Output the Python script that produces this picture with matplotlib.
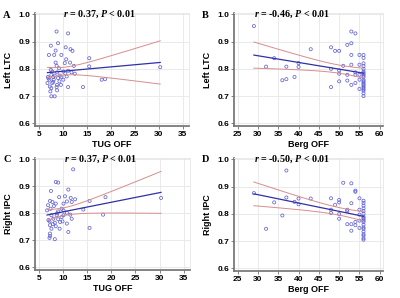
import numpy as np
import matplotlib
matplotlib.use("Agg")
import matplotlib.pyplot as plt

plt.rcParams['font.family'] = 'Liberation Sans'
plt.rcParams['mathtext.fontset'] = 'custom'
plt.rcParams['mathtext.it'] = 'Liberation Serif:italic:bold'
plt.rcParams['mathtext.rm'] = 'Liberation Serif:bold'

# ---- data ----
tug_a = [8.7, 11.1, 7.5, 9.0, 10.6, 11.6, 12.0, 8.5, 7.1, 8.2, 9.7, 10.7, 15.5, 8.5, 10.4,
         11.5, 12.3, 15.5, 8.7, 9.2, 30.3, 7.5, 7.8, 8.8, 10.1, 11.1, 11.8, 12.5, 6.9, 8.0,
         9.0, 9.7, 10.8, 7.2, 8.1, 9.3, 10.1, 6.8, 7.8, 8.8, 9.6, 18.1, 18.8, 7.6, 8.7,
         11.1, 14.2, 7.4, 8.8, 7.6, 8.3, 7.3, 8.3, 7.6, 7.0, 9.4, 8.0, 10.5]
ltc_a = [0.937, 0.930, 0.885, 0.894, 0.879, 0.872, 0.866, 0.867, 0.851, 0.851, 0.851, 0.835,
         0.839, 0.823, 0.821, 0.823, 0.811, 0.809, 0.811, 0.802, 0.806, 0.796, 0.790, 0.787,
         0.790, 0.793, 0.787, 0.782, 0.770, 0.770, 0.766, 0.770, 0.772, 0.760, 0.760, 0.754,
         0.760, 0.748, 0.748, 0.741, 0.741, 0.760, 0.762, 0.729, 0.733, 0.733, 0.733, 0.717,
         0.721, 0.699, 0.699, 0.735, 0.775, 0.778, 0.765, 0.775, 0.752, 0.783]

berg_b = [29, 32, 34, 37, 36, 37, 39, 40, 40, 43, 48, 48, 48, 49, 50, 50, 50, 50, 51, 52,
          52, 52, 53, 54, 53, 53, 53, 53, 54, 54, 55, 55, 55, 55, 55, 54,
          56, 56, 56, 56, 56, 56, 56, 56, 56, 56, 56, 56, 56, 56, 56, 56, 56, 56, 56, 56, 56]
ltc_b = [0.957, 0.808, 0.839, 0.808, 0.758, 0.762, 0.770, 0.821, 0.807, 0.872, 0.879, 0.800,
         0.733, 0.866, 0.866, 0.794, 0.782, 0.754, 0.811, 0.778, 0.757, 0.888, 0.937, 0.930,
         0.894, 0.851, 0.815, 0.741, 0.778, 0.787, 0.851, 0.815, 0.778, 0.760, 0.726, 0.748,
         0.851, 0.840, 0.820, 0.810, 0.800, 0.790, 0.785, 0.780, 0.775, 0.770, 0.760, 0.755,
         0.750, 0.745, 0.740, 0.735, 0.730, 0.725, 0.720, 0.710, 0.700]

tug_c = [12.1, 8.5, 9.0, 11.1, 7.5, 10.4, 9.2, 11.6, 12.5, 10.8, 11.8, 15.5, 18.8, 30.3,
         7.3, 7.8, 8.5, 6.9, 8.1, 7.4, 9.7, 10.1, 9.0, 14.2, 6.7, 10.8, 11.5, 7.6, 8.7, 9.7,
         18.3, 8.0, 9.0, 11.8, 7.2, 8.3, 9.4, 10.8, 7.3, 8.5, 9.3, 7.6, 15.5, 11.1, 7.3, 7.3,
         7.2, 8.3, 10.1, 10.1, 7.0, 8.8, 9.9, 7.9]
ipc_c = [0.963, 0.916, 0.914, 0.888, 0.883, 0.863, 0.860, 0.857, 0.852, 0.844, 0.842, 0.846,
         0.860, 0.857, 0.846, 0.842, 0.836, 0.830, 0.827, 0.817, 0.817, 0.811, 0.807, 0.814,
         0.811, 0.802, 0.795, 0.793, 0.793, 0.786, 0.795, 0.780, 0.778, 0.780, 0.770, 0.765,
         0.768, 0.762, 0.756, 0.752, 0.743, 0.743, 0.746, 0.731, 0.725, 0.716, 0.709, 0.704,
         0.836, 0.793, 0.775, 0.800, 0.770, 0.760]

berg_d = [29, 32, 34, 36, 37, 37, 39, 40, 40, 43, 48, 48, 48, 49, 50, 50, 50, 50, 51, 52,
          52, 52, 53, 53, 53, 53, 54, 54, 54, 54, 55, 55, 55, 55, 55,
          56, 56, 56, 56, 56, 56, 56, 56, 56, 56, 56, 56, 56, 56, 56, 56, 56, 56, 56]
ipc_d = [0.876, 0.745, 0.842, 0.794, 0.959, 0.860, 0.844, 0.856, 0.835, 0.856, 0.857, 0.815,
         0.803, 0.833, 0.851, 0.842, 0.782, 0.799, 0.914, 0.815, 0.762, 0.810, 0.912, 0.839,
         0.762, 0.738, 0.881, 0.885, 0.770, 0.758, 0.857, 0.815, 0.797, 0.775, 0.748,
         0.848, 0.840, 0.830, 0.820, 0.810, 0.800, 0.790, 0.785, 0.780, 0.775, 0.770, 0.760,
         0.750, 0.745, 0.735, 0.725, 0.720, 0.710, 0.705]

panels = [
    ("A", tug_a, ltc_a, "TUG OFF", "Left LTC", "$r$ = 0.37, $P$ < 0.01"),
    ("B", berg_b, ltc_b, "Berg OFF", "Left LTC", "$r$ = -0.46, $P$ < 0.01"),
    ("C", tug_c, ipc_c, "TUG OFF", "Right IPC", "$r$ = 0.37, $P$ < 0.01"),
    ("D", berg_d, ipc_d, "Berg OFF", "Right IPC", "$r$ = -0.50, $P$ < 0.01"),
]

W, H = 400, 298
fig = plt.figure(figsize=(4, 2.98), dpi=100)

# axes boxes in pixels: left, top, right, bottom
boxes = [(35, 13, 189, 126), (234, 13, 383, 126), (35, 158, 190, 270), (234, 158, 383, 271)]
xlims = [(4.2, 36.3), (24.1, 60.8), (4.2, 36.3), (24.1, 60.8)]
xticks = [np.arange(5, 36, 5), np.arange(25, 61, 5), np.arange(5, 36, 5), np.arange(25, 61, 5)]
text_x = [0.42, 0.39, 0.42, 0.39]

for i, (letter, x, y, xl, yl, stat) in enumerate(panels):
    l, t, r, b = boxes[i]
    ax = fig.add_axes([l / W, 1 - b / H, (r - l) / W, (b - t) / H])
    x = np.array(x); y = np.array(y)

    ax.scatter(x, y, s=5, facecolors='none', edgecolors='#6464d2', linewidths=0.55, zorder=3)

    # regression line + 95% CI of the mean
    n = len(x)
    slope, icpt = np.polyfit(x, y, 1)
    xs = np.linspace(x.min(), x.max(), 100)
    yh = icpt + slope * xs
    resid = y - (icpt + slope * x)
    s = np.sqrt(np.sum(resid ** 2) / (n - 2))
    sxx = np.sum((x - x.mean()) ** 2)
    half = 2.0 * s * np.sqrt(1 / n + (xs - x.mean()) ** 2 / sxx)
    ax.plot(xs, yh, color='#3030a8', lw=0.9, zorder=4)
    ax.plot(xs, yh + half, color='#d88c8c', lw=0.7, zorder=4)
    ax.plot(xs, yh - half, color='#d88c8c', lw=0.7, zorder=4)

    ax.set_xlim(*xlims[i])
    ax.set_ylim(0.59, 1.005)
    ax.set_xticks(xticks[i])
    ax.set_yticks([0.6, 0.7, 0.8, 0.9, 1.0])
    ax.set_yticklabels(["0.6", "0.7", "0.8", "0.9", "1.0"])
    ax.grid(True, color='#e6e6e6', lw=0.6)
    ax.set_axisbelow(True)
    for side in ['top', 'right']:
        ax.spines[side].set_color('#e6e6e6')
        ax.spines[side].set_linewidth(0.6)
    for side in ['left', 'bottom']:
        ax.spines[side].set_color('#707070')
        ax.spines[side].set_linewidth(1.2)
    ax.tick_params(labelsize=6, length=2, width=0.6, color='#707070', pad=1.5)
    for lab in ax.get_xticklabels() + ax.get_yticklabels():
        lab.set_fontweight('bold')
    ax.set_xlabel(xl, fontsize=6.5, fontweight='bold', labelpad=1.5)
    ax.set_ylabel(yl, fontsize=6.5, fontweight='bold', labelpad=4)

    ax.text(text_x[i], 0.985, stat, transform=ax.transAxes, ha='center', va='center',
            fontsize=7.2, family='Liberation Serif', fontweight='bold')
    fig.text((l - 32) / W, 1 - (t + 2) / H, letter, ha='left', va='center',
             fontsize=7.5, family='Liberation Serif', fontweight='bold')

fig.savefig("out.png", dpi=100)
